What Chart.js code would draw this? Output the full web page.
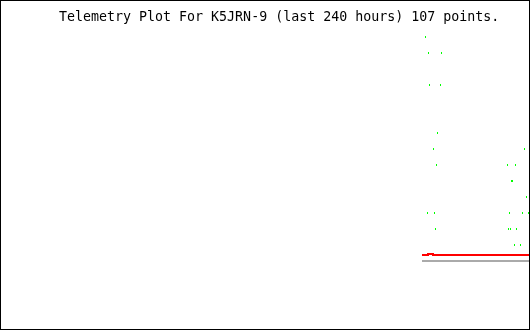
<!DOCTYPE html>
<html>
<head>
<meta charset="utf-8">
<script src="https://cdn.jsdelivr.net/npm/chart.js@4"></script>
<style>
  html, body { margin: 0; padding: 0; background: #fff; }
  canvas { display: block; }
</style>
</head>
<body>
<canvas id="telemetry" width="530" height="330"></canvas>
<script>
const TITLE = 'Telemetry Plot For K5JRN-9 (last 240 hours) 107 points.';

// green samples: hours before now, value
const greenHours = [-52.85, -51.83, -51.32, -50.81, -48.77, -48.26, -47.74, -47.23, -46.72,
  -45.19, -44.68, -10.98, -10.47, -9.96, -9.45, -8.94, -8.43, -7.40, -6.89, -6.38,
  -4.34, -3.32, -2.30, -1.28, -0.26];
const greenValues = [14, 3, 13, 11, 7, 3, 2, 6, 8,
  11, 13, 6, 2, 3, 2, 5, 5, 1, 6, 2,
  1, 3, 7, 4, 3];

// red trace (stepped)
const redHours = [-54.64, -51.57, -49.02, 0];
const redValues = [0.375, 0.4375, 0.375, 0.375];

// gray baseline
const grayHours = [-54.64, 0];
const grayValues = [0, 0];

function toPoints(xs, ys){
  return xs.map((x, i) => ({ x: x, y: ys[i] }));
}

// 1x2 px green tick used as point marker
const dot = document.createElement('canvas');
dot.width = 1; dot.height = 2;
const dctx = dot.getContext('2d');
dctx.fillStyle = '#00ff00';
dctx.fillRect(0, 0, 1, 2);

const frame = {
  id: 'frame',
  beforeDatasetsDraw(chart){
    chart.ctx.imageSmoothingEnabled = false; // keep the ticks crisp
  },
  afterDraw(chart){
    const ctx = chart.ctx;
    ctx.save();
    ctx.strokeStyle = '#000';
    ctx.lineWidth = 1;
    ctx.strokeRect(0.5, 0.5, chart.width - 1, chart.height - 1);
    ctx.restore();
  }
};

new Chart(document.getElementById('telemetry'), {
  type: 'scatter',
  data: {
    datasets: [
      {
        label: 'gray',
        data: toPoints(grayHours, grayValues),
        showLine: true,
        borderColor: '#aaaaaa',
        borderWidth: 2,
        pointRadius: 0
      },
      {
        label: 'red',
        data: toPoints(redHours, redValues),
        showLine: true,
        stepped: true,
        borderColor: '#ff0000',
        borderWidth: 2,
        pointRadius: 0
      },
      {
        label: 'green',
        data: toPoints(greenHours, greenValues),
        showLine: false,
        pointStyle: dot,
        pointRadius: 1
      }
    ]
  },
  options: {
    responsive: false,
    animation: false,
    devicePixelRatio: 1,
    layout: { autoPadding: false, padding: { left: 59, right: 1, top: 0, bottom: 1 } },
    scales: {
      x: { type: 'linear', min: -240, max: 0, display: false },
      y: { type: 'linear', min: -4.25, max: 14.4375, display: false }
    },
    plugins: {
      legend: { display: false },
      tooltip: { enabled: false },
      title: {
        display: true,
        text: TITLE,
        align: 'start',
        color: '#000',
        padding: { top: 10, bottom: 4 },
        font: { family: 'DejaVu Sans Mono', size: 13.3, weight: 'normal', lineHeight: '16px' }
      }
    }
  },
  plugins: [frame]
});
</script>
</body>
</html>
